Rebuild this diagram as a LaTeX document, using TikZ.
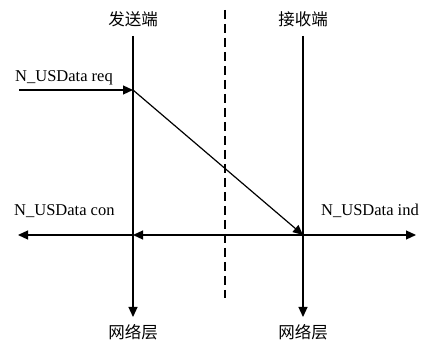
\documentclass[tikz,border=0pt]{standalone}
\usepackage{fontspec}
\setmainfont{Liberation Serif}
\newfontfamily\cjk{Noto Sans CJK SC}
\usetikzlibrary{arrows.meta}
\begin{document}
\begin{tikzpicture}[x=1pt,y=-1pt,
  ln/.style={line width=1.2pt},
  arr/.style={ln,-{Triangle[length=10pt,width=9pt]}},
  lbl/.style={inner sep=0pt,font=\fontsize{16.5}{19}\selectfont},
  cn/.style={inner sep=0pt,font=\cjk\fontsize{16.5}{19}\selectfont}]
\useasboundingbox (0,0) rectangle (421,344);
\node[cn] (snd) at (133,19) {发送端};
\node[cn] (rcv) at (303,19) {接收端};
\node[cn] (net1) at (133,332) {网络层};
\node[cn] (net2) at (303,332) {网络层};
\coordinate (sTop) at (133,36);
\coordinate (rTop) at (303,36);
\coordinate (sReq) at (133,90);
\coordinate (reqStart) at (19,90);
\coordinate (sMid) at (133,235);
\coordinate (rMid) at (303,235);
\coordinate (leftEnd) at (18,235);
\coordinate (rightEnd) at (416,235);
\coordinate (sBot) at (133,317);
\coordinate (rBot) at (303,317);
\coordinate (dTop) at (225,10);
\coordinate (dBot) at (225,298);
\node[lbl,anchor=base west] (req) at (15,82) {N\_USData req};
\node[lbl,anchor=base west] (con) at (14,216) {N\_USData con};
\node[lbl,anchor=base east] (ind) at (419,216) {N\_USData ind};
\draw[ln,dash pattern=on 9pt off 5pt] (dTop) -- (dBot);
\draw[arr] (sTop) -- (sBot);
\draw[arr] (rTop) -- (rBot);
\draw[arr] (reqStart) -- (sReq);
\draw[arr] (sReq) -- (rMid);
\draw[arr] (rMid) -- (sMid);
\draw[arr] (sMid) -- (leftEnd);
\draw[arr] (rMid) -- (rightEnd);
\end{tikzpicture}
\end{document}
